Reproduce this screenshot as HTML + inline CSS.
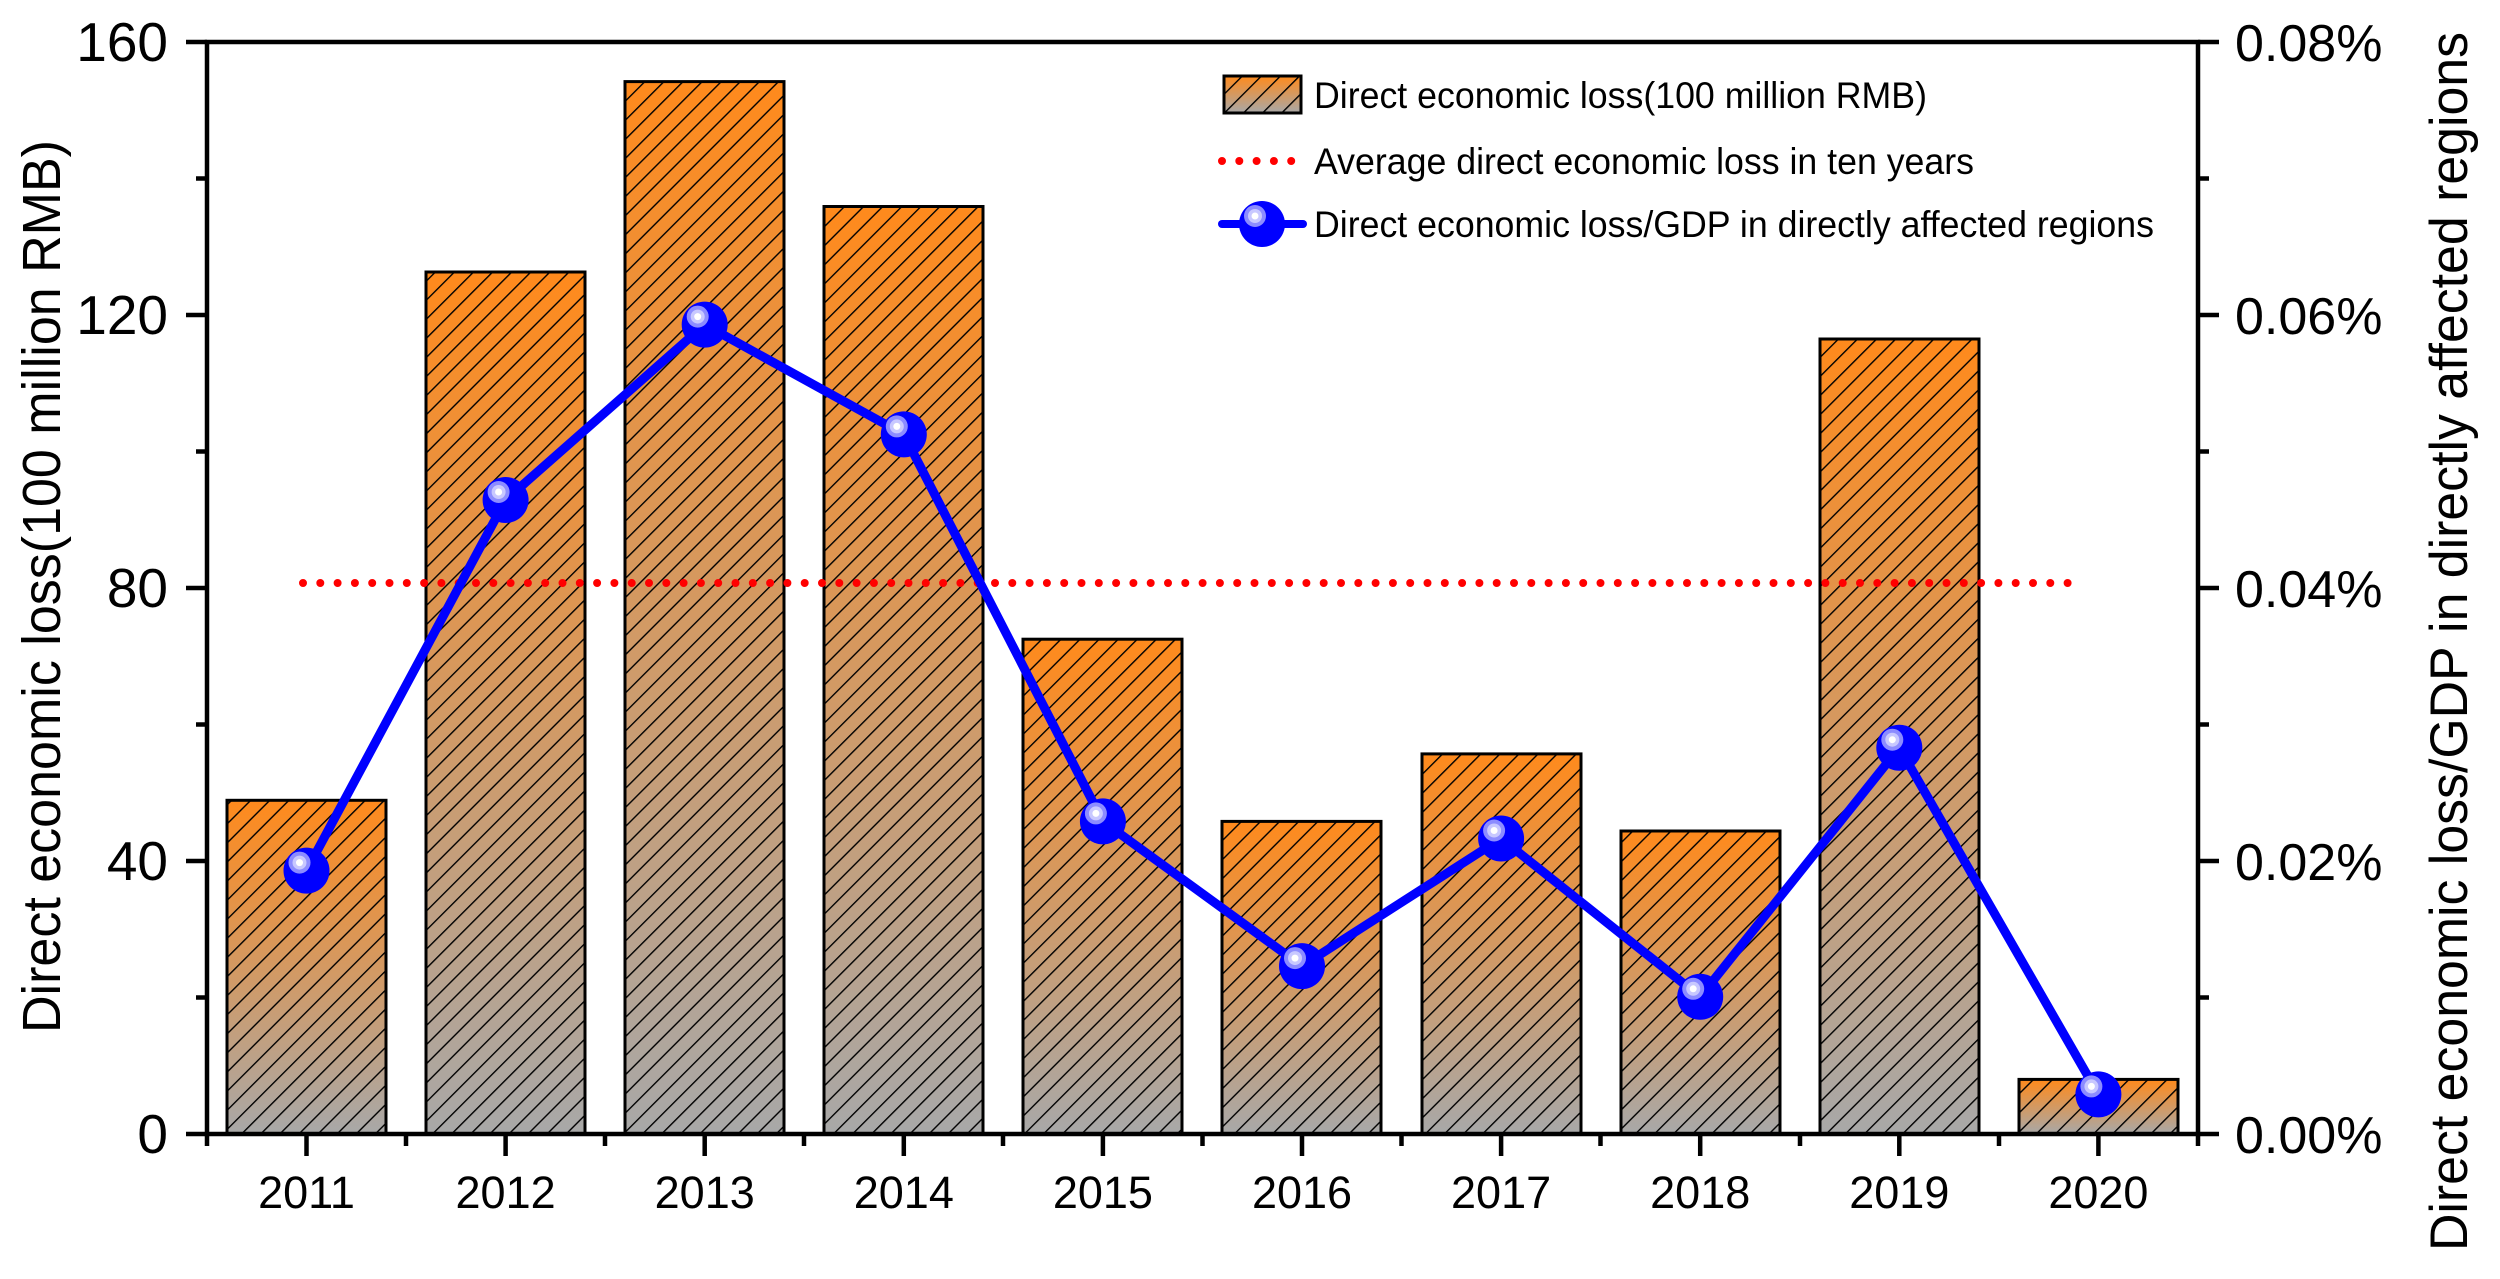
<!DOCTYPE html>
<html><head><meta charset="utf-8"><style>html,body{margin:0;padding:0;background:#fff}svg{display:block}</style></head>
<body>
<svg width="2500" height="1279" viewBox="0 0 2500 1279" xmlns="http://www.w3.org/2000/svg" font-family="Liberation Sans, Arial, sans-serif">
<defs>
<linearGradient id="bg" x1="0" y1="0" x2="0" y2="1">
<stop offset="0" stop-color="#ff8a1c"/><stop offset="1" stop-color="#a8a8a8"/>
</linearGradient>
<pattern id="hatch" patternUnits="userSpaceOnUse" width="13.5" height="13.5" patternTransform="rotate(45)">
<line x1="0" y1="0" x2="0" y2="13.5" stroke="#000" stroke-width="2.8"/>
</pattern>
<g id="m"><circle r="23" fill="#0000ff"/><circle cx="-7" cy="-8" r="11" fill="#8c8cff"/><circle cx="-7" cy="-8" r="7" fill="#c8c8ff"/><circle cx="-7" cy="-8" r="3.5" fill="#fff"/></g>
</defs>

<g stroke="none" fill="url(#bg)">
<rect x="227" y="800.3" width="159" height="333.7"/>
<rect x="426" y="272" width="159" height="862"/>
<rect x="625" y="81.6" width="159" height="1052.4"/>
<rect x="824" y="206.5" width="159" height="927.5"/>
<rect x="1023" y="639.2" width="159" height="494.8"/>
<rect x="1222" y="821.4" width="159" height="312.6"/>
<rect x="1422" y="753.9" width="159" height="380.1"/>
<rect x="1621" y="831" width="159" height="303"/>
<rect x="1820" y="339" width="159" height="795"/>
<rect x="2019" y="1079.4" width="159" height="54.6"/>
</g>
<g stroke="none" fill="url(#hatch)">
<rect x="227" y="800.3" width="159" height="333.7"/>
<rect x="426" y="272" width="159" height="862"/>
<rect x="625" y="81.6" width="159" height="1052.4"/>
<rect x="824" y="206.5" width="159" height="927.5"/>
<rect x="1023" y="639.2" width="159" height="494.8"/>
<rect x="1222" y="821.4" width="159" height="312.6"/>
<rect x="1422" y="753.9" width="159" height="380.1"/>
<rect x="1621" y="831" width="159" height="303"/>
<rect x="1820" y="339" width="159" height="795"/>
<rect x="2019" y="1079.4" width="159" height="54.6"/>
</g>
<g fill="none" stroke="#000" stroke-width="3">
<rect x="227" y="800.3" width="159" height="333.7"/>
<rect x="426" y="272" width="159" height="862"/>
<rect x="625" y="81.6" width="159" height="1052.4"/>
<rect x="824" y="206.5" width="159" height="927.5"/>
<rect x="1023" y="639.2" width="159" height="494.8"/>
<rect x="1222" y="821.4" width="159" height="312.6"/>
<rect x="1422" y="753.9" width="159" height="380.1"/>
<rect x="1621" y="831" width="159" height="303"/>
<rect x="1820" y="339" width="159" height="795"/>
<rect x="2019" y="1079.4" width="159" height="54.6"/>
</g>

<line x1="303" y1="583" x2="2070" y2="583" stroke="#ff0000" stroke-width="8" stroke-linecap="round" stroke-dasharray="0 17.3"/>

<polyline fill="none" stroke="#0000ff" stroke-width="9" stroke-linejoin="round" stroke-linecap="round"
points="306.5,870.6 505.6,500 704.7,324.6 903.8,434.4 1102.9,821.4 1302,966.1 1501.1,838.5 1700.2,996.8 1899.3,747.7 2098.4,1094.4"/>
<g>
<use href="#m" x="306.5" y="870.6"/><use href="#m" x="505.6" y="500"/><use href="#m" x="704.7" y="324.6"/>
<use href="#m" x="903.8" y="434.4"/><use href="#m" x="1102.9" y="821.4"/><use href="#m" x="1302" y="966.1"/>
<use href="#m" x="1501.1" y="838.5"/><use href="#m" x="1700.2" y="996.8"/><use href="#m" x="1899.3" y="747.7"/>
<use href="#m" x="2098.4" y="1094.4"/>
</g>

<g stroke="#000" stroke-width="4.5" fill="none">
<rect x="207" y="42" width="1991" height="1092"/>
<path d="M186 42H207M186 315H207M186 588H207M186 861H207M186 1134H207"/>
<path d="M196 178.5H207M196 451.5H207M196 724.5H207M196 997.5H207"/>
<path d="M2198 42H2219M2198 315H2219M2198 588H2219M2198 861H2219M2198 1134H2219"/>
<path d="M2198 178.5H2209M2198 451.5H2209M2198 724.5H2209M2198 997.5H2209"/>
<path d="M306.5 1134v22M505.6 1134v22M704.7 1134v22M903.8 1134v22M1102.9 1134v22M1302 1134v22M1501.1 1134v22M1700.2 1134v22M1899.3 1134v22M2098.4 1134v22"/>
<path d="M207 1134v12M406 1134v12M605 1134v12M804 1134v12M1003 1134v12M1202.5 1134v12M1401.5 1134v12M1600.5 1134v12M1800 1134v12M1999 1134v12M2198 1134v12"/>
</g>

<g font-size="55" fill="#000" text-anchor="end">
<text x="168" y="61">160</text><text x="168" y="334">120</text><text x="168" y="607">80</text><text x="168" y="880">40</text><text x="168" y="1153">0</text>
</g>
<g font-size="52" fill="#000">
<text x="2235" y="61">0.08%</text><text x="2235" y="334">0.06%</text><text x="2235" y="607">0.04%</text><text x="2235" y="880">0.02%</text><text x="2235" y="1153">0.00%</text>
</g>
<g font-size="45" fill="#000" text-anchor="middle">
<text x="306.5" y="1208">2011</text><text x="505.6" y="1208">2012</text><text x="704.7" y="1208">2013</text><text x="903.8" y="1208">2014</text><text x="1102.9" y="1208">2015</text><text x="1302" y="1208">2016</text><text x="1501.1" y="1208">2017</text><text x="1700.2" y="1208">2018</text><text x="1899.3" y="1208">2019</text><text x="2098.4" y="1208">2020</text>
</g>

<text transform="translate(60,1033) rotate(-90)" font-size="54" textLength="893" lengthAdjust="spacingAndGlyphs">Direct economic loss(100 million RMB)</text>
<text transform="translate(2467,1251) rotate(-90)" font-size="53" textLength="1219" lengthAdjust="spacingAndGlyphs">Direct economic loss/GDP in directly affected regions</text>

<rect x="1224" y="76" width="77" height="37" fill="url(#bg)"/>
<rect x="1224" y="76" width="77" height="37" fill="url(#hatch)" stroke="#000" stroke-width="3"/>
<line x1="1222" y1="161" x2="1295" y2="161" stroke="#ff0000" stroke-width="8" stroke-linecap="round" stroke-dasharray="0 17.3"/>
<line x1="1222" y1="224" x2="1303" y2="224" stroke="#0000ff" stroke-width="8" stroke-linecap="round"/>
<use href="#m" x="1262" y="224"/>
<g font-size="37" fill="#000">
<text x="1314" y="108" textLength="613" lengthAdjust="spacingAndGlyphs">Direct economic loss(100 million RMB)</text>
<text x="1314" y="174" textLength="660" lengthAdjust="spacingAndGlyphs">Average direct economic loss in ten years</text>
<text x="1314" y="237" textLength="840" lengthAdjust="spacingAndGlyphs">Direct economic loss/GDP in directly affected regions</text>
</g>
</svg>
</body></html>
